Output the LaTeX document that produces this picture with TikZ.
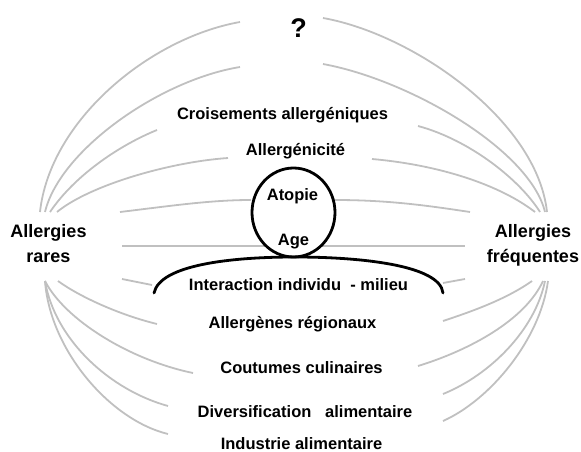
\documentclass[tikz,border=0pt]{standalone}
\usepackage{fontspec}
\setmainfont{Liberation Sans}
\definecolor{fangray}{RGB}{192,192,192}
\tikzset{
  fan/.style={draw=fangray, line width=1.8pt},
  hand/.style={draw=black, line width=2.8pt, line cap=round},
  lbl/.style={font=\bfseries\fontsize{16.5}{19}\selectfont, anchor=base, inner sep=0pt},
  side/.style={font=\bfseries\fontsize{18}{25}\selectfont, align=center, anchor=base, inner sep=0pt},
}

\begin{document}
\begin{tikzpicture}[x=1pt, y=-1pt]
  \useasboundingbox (0,0) rectangle (581,452);

  % upper fan
  \draw[fan] (40,212) .. controls (50,120) and (150,38) .. (240,22);
  \draw[fan] (45,212) .. controls (60,150) and (160,80) .. (240,67);
  \draw[fan] (50,212) .. controls (75,175) and (120,145) .. (157,130);
  \draw[fan] (57,212) .. controls (90,185) and (170,162) .. (228,158);
  \draw[fan] (120,212) .. controls (170,206) and (210,200) .. (251,200);
  \draw[fan] (323,18) .. controls (413,34) and (537,120) .. (547,212);
  \draw[fan] (323,64) .. controls (410,80) and (530,150) .. (545,212);
  \draw[fan] (418,126) .. controls (470,140) and (520,180) .. (540,212);
  \draw[fan] (372,159) .. controls (440,165) and (500,185) .. (535,212);
  \draw[fan] (335,200) .. controls (390,200) and (430,206) .. (470,212);
  % middle
  \draw[fan] (122,246) -- (267,246);
  \draw[fan] (319,246) -- (465,246);
  \draw[fan] (122,279) -- (152,285);
  \draw[fan] (443,283) -- (465,279);
  % lower fan
  \draw[fan] (58,281) .. controls (80,297) and (120,315) .. (157,324);
  \draw[fan] (45,281) .. controls (65,320) and (130,360) .. (193,373);
  \draw[fan] (45,281) .. controls (55,340) and (110,390) .. (168,406);
  \draw[fan] (45,281) .. controls (50,350) and (110,420) .. (168,434);
  \draw[fan] (532,281) .. controls (505,300) and (470,312) .. (443,321);
  \draw[fan] (543,281) .. controls (525,320) and (470,350) .. (418,366);
  \draw[fan] (545,281) .. controls (535,330) and (490,375) .. (443,394);
  \draw[fan] (548,281) .. controls (540,340) and (490,400) .. (443,421);

  % circle and ground
  \draw[hand] (293.5,212.5) ellipse [x radius=41.5, y radius=44.5];
  \draw[hand] (154,293) .. controls (160,265) and (230,257) .. (295,257)
                        .. controls (360,257) and (440,265) .. (443,293);

  \node[lbl, font=\bfseries\fontsize{27}{30}\selectfont] (quest) at (298.5,38) {?};
  \node[lbl] (crois) at (282.5,119) {Croisements allergéniques};
  \node[lbl] (allgen) at (295.5,155) {Allergénicité};
  \node[lbl] (atopie) at (292.5,200) {Atopie};
  \node[lbl] (age) at (293.5,245) {Age};
  \node[lbl] (inter) at (298.5,290) {Interaction individu\ \ - milieu};
  \node[lbl] (regio) at (292.5,328) {Allergènes régionaux};
  \node[lbl] (cout) at (301.5,373) {Coutumes culinaires};
  \node[lbl] (divers) at (305,417) {Diversification\ \ \ alimentaire};
  \node[lbl] (indus) at (301.5,449.5) {Industrie alimentaire};
  \node[side] (rares) at (48.5,262) {Allergies\\rares};
  \node[side] (freq) at (533,262) {Allergies\\fréquentes};
\end{tikzpicture}
\end{document}
